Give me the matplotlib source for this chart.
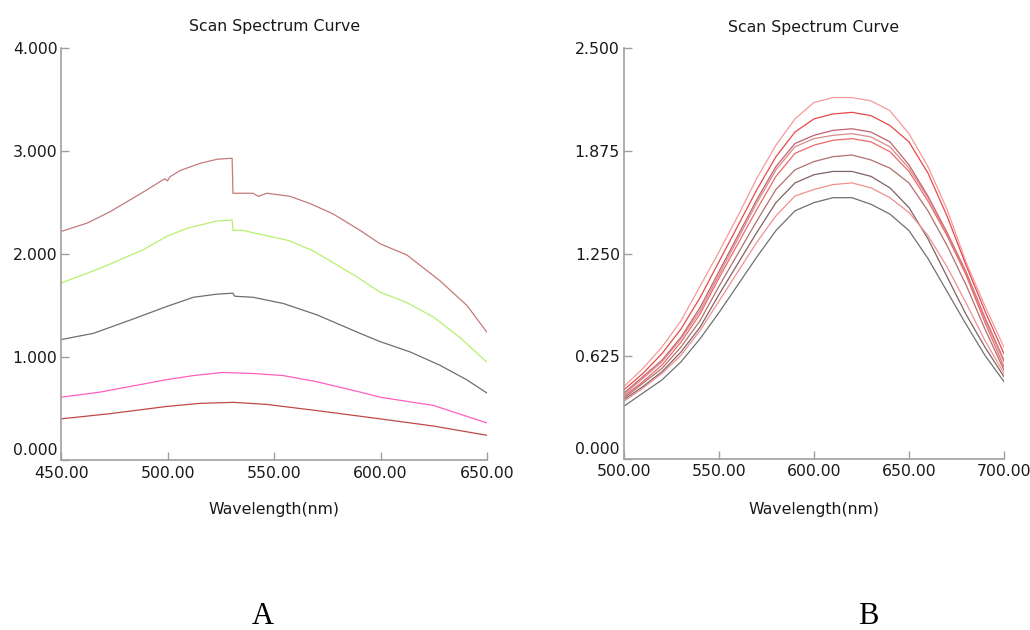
import matplotlib
matplotlib.use("Agg")
import matplotlib.pyplot as plt
import matplotlib.transforms as mtransforms

plt.rcParams['font.family'] = ['DejaVu Sans']

# ---- panel A data (wavelength nm, absorbance) ----
a1_nm = [450, 462, 472.8, 488.3, 498.5, 499.8, 501, 505.7, 515.1, 523.1, 530.2, 530.6, 540, 542.5, 546.6, 557.4, 566.8, 577.6, 590.3, 599.7, 612.4, 627.9, 640.6, 650]
a1_val = [2.22, 2.30, 2.41, 2.60, 2.73, 2.71, 2.75, 2.81, 2.88, 2.92, 2.93, 2.59, 2.59, 2.56, 2.59, 2.56, 2.49, 2.39, 2.23, 2.10, 1.99, 1.74, 1.50, 1.24]

a2_nm = [450, 468, 488.3, 499.4, 509, 523, 530.2, 530.6, 535, 546, 557, 568.4, 588.7, 599.7, 612.2, 624.7, 637.2, 650]
a2_val = [1.72, 1.86, 2.04, 2.17, 2.25, 2.32, 2.33, 2.23, 2.23, 2.18, 2.13, 2.03, 1.78, 1.63, 1.53, 1.39, 1.19, 0.95]

a3_nm = [450, 465, 483.8, 499.4, 512, 522.9, 530.5, 531.5, 540.1, 554.2, 570, 590.3, 599.7, 613.8, 627.9, 640.4, 650]
a3_val = [1.17, 1.23, 1.37, 1.49, 1.58, 1.61, 1.62, 1.59, 1.58, 1.52, 1.41, 1.23, 1.15, 1.05, 0.92, 0.78, 0.65]

a4_nm = [450, 468.3, 499.4, 512, 525.7, 540.1, 554.2, 570, 590.3, 599.7, 624.8, 650]
a4_val = [0.61, 0.66, 0.78, 0.82, 0.85, 0.84, 0.82, 0.76, 0.66, 0.61, 0.53, 0.36]

a5_nm = [450, 472.8, 499.4, 515, 530.7, 546.4, 570, 599.7, 624.8, 650]
a5_val = [0.40, 0.45, 0.52, 0.55, 0.56, 0.54, 0.48, 0.40, 0.33, 0.24]

a_colors = ['#c47a7a', '#b8f070', '#6e6e6e', '#ff5fc0', '#c04848']

# ---- panel B data ----
b_nm = [500, 510, 520, 530, 540, 550, 560, 570, 580, 590, 600,
        610, 620, 630, 640, 650, 660, 670, 680, 690, 700]
b1 = [0.44, 0.55, 0.68, 0.84, 1.05, 1.26, 1.48, 1.71, 1.91, 2.07, 2.17, 2.20, 2.20, 2.18, 2.12, 1.98, 1.78, 1.52, 1.20, 0.93, 0.68]
b2 = [0.42, 0.52, 0.64, 0.79, 0.98, 1.20, 1.42, 1.64, 1.84, 1.99, 2.07, 2.10, 2.11, 2.09, 2.03, 1.93, 1.74, 1.48, 1.18, 0.90, 0.64]
b3 = [0.40, 0.50, 0.60, 0.74, 0.92, 1.14, 1.36, 1.58, 1.78, 1.92, 1.97, 2.00, 2.01, 1.99, 1.93, 1.79, 1.60, 1.38, 1.14, 0.86, 0.60]
b4 = [0.39, 0.49, 0.59, 0.73, 0.90, 1.12, 1.34, 1.56, 1.76, 1.90, 1.95, 1.97, 1.98, 1.96, 1.90, 1.77, 1.59, 1.37, 1.13, 0.85, 0.59]
b5 = [0.38, 0.47, 0.57, 0.71, 0.88, 1.10, 1.31, 1.52, 1.72, 1.86, 1.91, 1.94, 1.95, 1.93, 1.87, 1.75, 1.57, 1.36, 1.12, 0.83, 0.56]
b6 = [0.37, 0.46, 0.55, 0.68, 0.84, 1.05, 1.25, 1.45, 1.64, 1.76, 1.81, 1.84, 1.85, 1.82, 1.77, 1.68, 1.51, 1.30, 1.06, 0.79, 0.54]
b7 = [0.36, 0.44, 0.53, 0.65, 0.80, 1.00, 1.19, 1.38, 1.56, 1.68, 1.73, 1.75, 1.75, 1.72, 1.65, 1.53, 1.34, 1.11, 0.88, 0.68, 0.50]
b8 = [0.35, 0.43, 0.52, 0.63, 0.78, 0.96, 1.14, 1.32, 1.48, 1.60, 1.64, 1.67, 1.68, 1.65, 1.59, 1.50, 1.36, 1.17, 0.95, 0.72, 0.52]
b9 = [0.32, 0.40, 0.48, 0.59, 0.73, 0.89, 1.06, 1.23, 1.39, 1.51, 1.56, 1.59, 1.59, 1.55, 1.49, 1.39, 1.22, 1.02, 0.82, 0.63, 0.47]
b_colors = ['#f59a9a', '#e84848', '#c06070', '#d88a8a', '#f06868', '#b07070', '#806262', '#f29090', '#707070']

a_xticks = [450, 500, 550, 600, 650]
a_yticks = [0, 1, 2, 3, 4]
b_xticks = [500, 550, 600, 650, 700]
b_yticks = [0, 0.625, 1.25, 1.875, 2.5]

fs = 11.3
fig = plt.figure(figsize=(10.3, 6.3), dpi=100)
axA = fig.add_axes([0.0597, 0.2698, 0.4131, 0.654])
axB = fig.add_axes([0.6058, 0.2719, 0.3689, 0.6514])

for xs, ys, c in zip([a1_nm, a2_nm, a3_nm, a4_nm, a5_nm],
                     [a1_val, a2_val, a3_val, a4_val, a5_val], a_colors):
    axA.plot(xs, ys, color=c, lw=0.9)

for ys, c in zip([b1, b2, b3, b4, b5, b6, b7, b8, b9], b_colors):
    axB.plot(b_nm, ys, color=c, lw=0.9)


def style(ax, xt, yt, xlim, ylim, label_y):
    ax.set_xlim(*xlim)
    ax.set_ylim(*ylim)
    ax.set_xticks(xt)
    ax.set_yticks(yt)
    ax.set_xticklabels(['%.2f' % v for v in xt])
    ax.set_yticklabels(['%.3f' % v for v in yt])
    for s in ['top', 'right']:
        ax.spines[s].set_visible(False)
    for s in ['left', 'bottom']:
        ax.spines[s].set_color('#a0a0a0')
        ax.spines[s].set_linewidth(1.2)
    ax.tick_params(direction='in', length=6, width=1, color='#a0a0a0',
                   labelsize=fs, labelcolor='#1a1a1a')
    ax.tick_params(axis='y', pad=3)
    ax.tick_params(axis='x', pad=4)
    ax.set_title('Scan Spectrum Curve', fontsize=fs, color='#1a1a1a', pad=12)
    ax.set_xlabel('Wavelength(nm)', fontsize=fs, color='#1a1a1a')
    ax.xaxis.set_label_coords(0.5, label_y)
    # lowest y label sits a bit above the axis line
    lab0 = ax.get_yticklabels()[0]
    lab0.set_transform(lab0.get_transform() +
                       mtransforms.ScaledTranslation(0, 11 / 100, fig.dpi_scale_trans))


style(axA, a_xticks, a_yticks, (450, 650), (0, 4), -0.102)
style(axB, b_xticks, b_yticks, (500, 700), (0, 2.5), -0.1055)

fig.text(263 / 1030, 1 - 616 / 630, 'A', fontsize=22, family='Liberation Serif',
         ha='center', va='center')
fig.text(868 / 1030, 1 - 616 / 630, 'B', fontsize=22, family='Liberation Serif',
         ha='center', va='center')

fig.savefig('out.png', dpi=100)
